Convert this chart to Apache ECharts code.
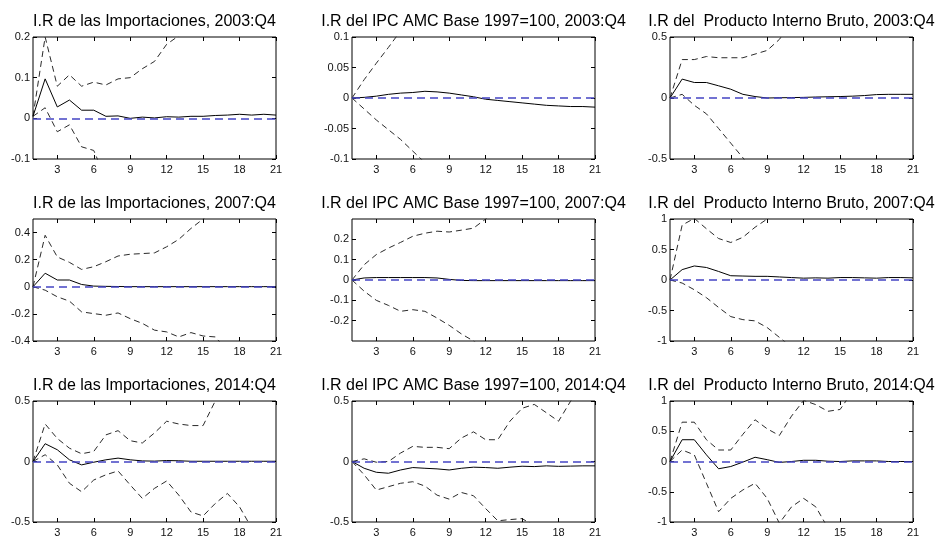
<!DOCTYPE html>
<html><head><meta charset="utf-8">
<script src="https://cdn.jsdelivr.net/npm/echarts@6/dist/echarts.min.js"></script>
<style>html,body{margin:0;padding:0;background:#fff}#c{width:935px;height:538px}</style>
</head><body><div id="c"></div>
<script>
// ---------- data ----------
const xs = [1,2,3,4,5,6,7,8,9,10,11,12,13,14,15,16,17,18,19,20,21];
const xTicks = [3,6,9,12,15,18,21];

const titles = [
  'I.R de las Importaciones, 2003:Q4',
  'I.R del IPC AMC Base 1997=100, 2003:Q4',
  'I.R del  Producto Interno Bruto, 2003:Q4',
  'I.R de las Importaciones, 2007:Q4',
  'I.R del IPC AMC Base 1997=100, 2007:Q4',
  'I.R del  Producto Interno Bruto, 2007:Q4',
  'I.R de las Importaciones, 2014:Q4',
  'I.R del IPC AMC Base 1997=100, 2014:Q4',
  'I.R del  Producto Interno Bruto, 2014:Q4'
];

const yMins = [-0.1, -0.1, -0.5, -0.4, -0.3, -1, -0.5, -0.5, -1];
const yMaxs = [0.2, 0.1, 0.5, 0.5, 0.3, 1, 0.5, 0.5, 1];
const yTicks = [
  [-0.1, 0, 0.1, 0.2],
  [-0.1, -0.05, 0, 0.05, 0.1],
  [-0.5, 0, 0.5],
  [-0.4, -0.2, 0, 0.2, 0.4],
  [-0.2, -0.1, 0, 0.1, 0.2],
  [-1, -0.5, 0, 0.5, 1],
  [-0.5, 0, 0.5],
  [-0.5, 0, 0.5],
  [-1, -0.5, 0, 0.5, 1]
];

// Importaciones 2003:Q4
const imp03_irf = [0.005,0.097,0.028,0.045,0.020,0.020,0.005,0.006,0.000,0.003,0.001,0.004,0.003,0.005,0.005,0.007,0.008,0.010,0.008,0.010,0.008];
const imp03_hi  = [0.005,0.200,0.079,0.107,0.079,0.089,0.082,0.097,0.100,0.122,0.140,0.182,0.203,0.240,null,null,null,null,null,null,null];
const imp03_lo  = [0.005,0.026,-0.033,-0.016,-0.070,-0.079,-0.150,null,null,null,null,null,null,null,null,null,null,null,null,null,null];
// IPC 2003:Q4
const ipc03_irf = [0,0.001,0.003,0.006,0.008,0.009,0.011,0.010,0.008,0.005,0.002,-0.002,-0.004,-0.006,-0.008,-0.010,-0.012,-0.013,-0.014,-0.014,-0.015];
const ipc03_hi  = [0,0.030,0.057,0.083,0.110,null,null,null,null,null,null,null,null,null,null,null,null,null,null,null,null];
const ipc03_lo  = [0,-0.018,-0.036,-0.052,-0.068,-0.087,-0.106,null,null,null,null,null,null,null,null,null,null,null,null,null,null];
// PIB 2003:Q4
const pib03_irf = [0,0.155,0.127,0.127,0.100,0.072,0.030,0.012,0.000,0.002,0.003,0.005,0.008,0.010,0.012,0.015,0.020,0.028,0.030,0.030,0.030];
const pib03_hi  = [0,0.315,0.315,0.340,0.330,0.330,0.330,0.360,0.390,0.480,0.620,null,null,null,null,null,null,null,null,null,null];
const pib03_lo  = [0,0.030,-0.060,-0.130,-0.250,-0.370,-0.490,-0.620,null,null,null,null,null,null,null,null,null,null,null,null,null];
// Importaciones 2007:Q4
const imp07_irf = [0,0.100,0.050,0.050,0.017,0.005,0.003,0.002,0.001,0.001,0.001,0.001,0.001,0.001,0.001,0.001,0.001,0.001,0.001,0.001,0.001];
const imp07_hi  = [0,0.380,0.220,0.180,0.128,0.148,0.185,0.227,0.240,0.245,0.250,0.295,0.350,0.430,0.500,0.570,null,null,null,null,null];
const imp07_lo  = [0,-0.025,-0.074,-0.106,-0.185,-0.198,-0.210,-0.193,-0.235,-0.270,-0.320,-0.333,-0.370,-0.338,-0.363,-0.370,-0.470,null,null,null,null];
// IPC 2007:Q4
const ipc07_irf = [0,0.010,0.012,0.012,0.012,0.012,0.012,0.010,0.003,-0.002,-0.003,-0.003,-0.003,-0.003,-0.003,-0.003,-0.003,-0.003,-0.003,-0.003,-0.003];
const ipc07_hi  = [0,0.075,0.125,0.157,0.185,0.215,0.230,0.240,0.236,0.245,0.255,0.300,0.350,null,null,null,null,null,null,null,null];
const ipc07_lo  = [0,-0.055,-0.100,-0.125,-0.154,-0.146,-0.154,-0.187,-0.223,-0.265,-0.300,-0.340,null,null,null,null,null,null,null,null,null];
// PIB 2007:Q4
const pib07_irf = [0,0.170,0.230,0.205,0.140,0.070,0.065,0.060,0.060,0.050,0.040,0.030,0.035,0.030,0.040,0.040,0.035,0.030,0.040,0.040,0.035];
const pib07_hi  = [0,0.900,1.010,0.840,0.680,0.615,0.700,0.865,1.000,1.150,null,null,null,null,null,null,null,null,null,null,null];
const pib07_lo  = [0,-0.050,-0.160,-0.290,-0.450,-0.600,-0.650,-0.670,-0.780,-0.940,-1.100,null,null,null,null,null,null,null,null,null,null];
// Importaciones 2014:Q4
const imp14_irf = [0,0.147,0.097,0.014,-0.028,-0.006,0.014,0.028,0.014,0.005,0.003,0.008,0.006,0.002,0.002,0.002,0.002,0.002,0.002,0.002,0.002];
const imp14_hi  = [0,0.310,0.190,0.110,0.064,0.083,0.220,0.255,0.172,0.153,0.236,0.333,0.310,0.297,0.297,0.500,0.700,null,null,null,null];
const imp14_lo  = [0,0.056,-0.028,-0.180,-0.250,-0.153,-0.110,-0.078,-0.194,-0.305,-0.222,-0.161,-0.278,-0.417,-0.450,-0.347,-0.264,-0.375,-0.550,null,null];
// IPC 2014:Q4
const ipc14_irf = [0,-0.056,-0.089,-0.097,-0.070,-0.050,-0.056,-0.061,-0.070,-0.056,-0.047,-0.050,-0.056,-0.047,-0.039,-0.042,-0.036,-0.040,-0.038,-0.036,-0.036];
const ipc14_hi  = [0,0.022,-0.006,0.000,0.070,0.125,0.117,0.117,0.106,0.194,0.245,0.180,0.180,0.333,0.440,0.472,0.403,0.333,0.500,0.650,null];
const ipc14_lo  = [0,-0.110,-0.236,-0.208,-0.180,-0.167,-0.203,-0.278,-0.311,-0.256,-0.283,-0.389,-0.490,-0.480,-0.472,-0.530,-0.600,null,null,null,null];
// PIB 2014:Q4
const pib14_irf = [0,0.360,0.360,0.110,-0.120,-0.083,-0.010,0.070,0.030,-0.015,0.000,0.020,0.020,0.005,0.000,0.010,0.010,0.010,0.000,0.000,0.000];
const pib14_hi  = [0,0.650,0.650,0.360,0.190,0.190,0.450,0.690,0.540,0.430,0.750,1.010,0.940,0.830,0.860,1.150,null,null,null,null,null];
const pib14_lo  = [0,0.190,0.110,-0.360,-0.830,-0.610,-0.470,-0.360,-0.610,-1.020,-0.750,-0.610,-0.750,-1.100,null,null,null,null,null,null,null];

const irfs = [imp03_irf, ipc03_irf, pib03_irf, imp07_irf, ipc07_irf, pib07_irf, imp14_irf, ipc14_irf, pib14_irf];
const his  = [imp03_hi, ipc03_hi, pib03_hi, imp07_hi, ipc07_hi, pib07_hi, imp14_hi, ipc14_hi, pib14_hi];
const los  = [imp03_lo, ipc03_lo, pib03_lo, imp07_lo, ipc07_lo, pib07_lo, imp14_lo, ipc14_lo, pib14_lo];

// ---------- layout ----------
const colLeft = [33, 352, 670];
const plotW = 243;
const rowTop = [37, 219, 401];
const plotH = 122;
const FONT = 'Liberation Sans, Arial, sans-serif';

const grid = [], xAxis = [], yAxis = [], series = [], graphic = [];
const tickStyle = { lineStyle: { color: '#000', width: 1 }, inside: true, length: 4 };

for (let i = 0; i < 9; i++) {
  const r = Math.floor(i / 3), c = i % 3;
  grid.push({ left: colLeft[c], top: rowTop[r], width: plotW, height: plotH,
    show: true, borderColor: '#000', borderWidth: 1, backgroundColor: '#fff', containLabel: false });
  // bottom x axis with labels
  xAxis.push({ type: 'value', gridIndex: i, min: 1, max: 21, position: 'bottom',
    axisLine: { show: false, onZero: false }, splitLine: { show: false },
    axisTick: Object.assign({ customValues: xTicks }, tickStyle),
    axisLabel: { customValues: xTicks, color: '#111', fontSize: 11, fontFamily: FONT, margin: 5 } });
  // top mirror ticks
  xAxis.push({ type: 'value', gridIndex: i, min: 1, max: 21, position: 'top',
    axisLine: { show: false, onZero: false }, splitLine: { show: false },
    axisTick: Object.assign({ customValues: xTicks }, tickStyle),
    axisLabel: { show: false } });
  // left y axis with labels
  yAxis.push({ type: 'value', gridIndex: i, min: yMins[i], max: yMaxs[i], position: 'left',
    axisLine: { show: false, onZero: false }, splitLine: { show: false },
    axisTick: Object.assign({ customValues: yTicks[i] }, tickStyle),
    axisLabel: { customValues: yTicks[i], color: '#111', fontSize: 11, fontFamily: FONT, margin: 3,
      formatter: v => String(v) } });
  // right mirror ticks
  yAxis.push({ type: 'value', gridIndex: i, min: yMins[i], max: yMaxs[i], position: 'right',
    axisLine: { show: false, onZero: false }, splitLine: { show: false },
    axisTick: Object.assign({ customValues: yTicks[i] }, tickStyle),
    axisLabel: { show: false } });

  const xi = 2 * i, yi = 2 * i;
  const toPts = arr => xs.map((x, k) => [x, arr[k]]);
  const dashed = { color: '#2a2a2a', width: 1, type: [6, 4] };
  series.push({ type: 'line', xAxisIndex: xi, yAxisIndex: yi, data: toPts(his[i]), symbol: 'none',
    lineStyle: dashed, clip: true, silent: true, z: 2 });
  series.push({ type: 'line', xAxisIndex: xi, yAxisIndex: yi, data: toPts(los[i]), symbol: 'none',
    lineStyle: dashed, clip: true, silent: true, z: 2 });
  series.push({ type: 'line', xAxisIndex: xi, yAxisIndex: yi, data: toPts(irfs[i]), symbol: 'none',
    lineStyle: { color: '#000', width: 1 }, clip: true, silent: true, z: 3,
    markLine: { silent: true, symbol: 'none', label: { show: false }, animation: false,
      lineStyle: { color: '#4444c4', width: 1.5, type: [8, 5] },
      data: [{ yAxis: 0 }], z: 4 } });

  graphic.push({ type: 'text', x: colLeft[c] + plotW / 2, y: rowTop[r] - 15,
    style: { text: titles[i], fill: '#000', font: '16px ' + FONT, textAlign: 'center', textVerticalAlign: 'middle' } });
}

const chart = echarts.init(document.getElementById('c'), null, { renderer: 'canvas' });
chart.setOption({ animation: false, backgroundColor: '#fff', grid, xAxis, yAxis, series, graphic });
</script>
</body></html>
